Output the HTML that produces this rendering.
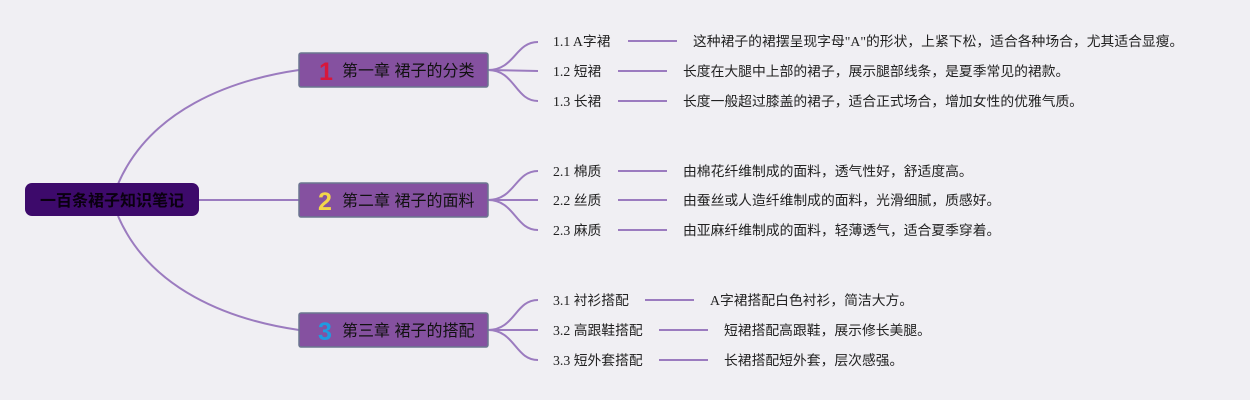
<!DOCTYPE html>
<html><head><meta charset="utf-8"><style>
html,body{margin:0;padding:0;background:#f0eff3;}
svg{display:block}
text{font-family:"Liberation Serif","Noto Sans CJK SC",serif;font-size:13.8px;fill:#222;}
.ch{font-family:"Liberation Sans","Noto Sans CJK SC",sans-serif;font-size:16px;fill:#111;}
</style></head><body>
<svg width="1250" height="400" viewBox="0 0 1250 400">
<g fill="none" stroke="#9b7bbf" stroke-width="2">
<path d="M118 184 C150 110 230 80 299 70"/>
<path d="M199 200 L299 200"/>
<path d="M118 216 C150 290 230 320 299 330"/>
<path d="M488 70 C515 70 515 42 538 42"/><path d="M488 70 L538 71"/><path d="M488 70 C515 70 515 101 538 101"/>
<path d="M488 200 C515 200 515 171 538 171"/><path d="M488 200 L538 200"/><path d="M488 200 C515 200 515 230 538 230"/>
<path d="M488 330 C515 330 515 300 538 300"/><path d="M488 330 L538 330"/><path d="M488 330 C515 330 515 360 538 360"/>
<path d="M628 41 H677"/><path d="M618 71 H667"/><path d="M618 101 H667"/>
<path d="M618 171 H667"/><path d="M618 200 H667"/><path d="M618 230 H667"/>
<path d="M645 300 H694"/><path d="M659 330 H708"/><path d="M659 360 H708"/>
</g>
<rect x="25" y="183" width="174" height="33" rx="7" fill="#3d0a6b"/>
<text x="112" y="206" text-anchor="middle" style="font-family:'Liberation Sans','Noto Sans CJK SC',sans-serif;font-size:16px;font-weight:bold;fill:#0a0010">一百条裙子知识笔记</text>
<g stroke="#6b7790" stroke-width="1.5" fill="#8551a0">
<rect x="299" y="53" width="189" height="34" rx="2"/>
<rect x="299" y="183" width="189" height="34" rx="2"/>
<rect x="299" y="313" width="189" height="34" rx="2"/>
</g>
<text x="319" y="80" style="font-family:'Liberation Sans',sans-serif;font-size:25px;font-weight:bold;fill:#d8173c">1</text>
<text x="318" y="210" style="font-family:'Liberation Sans',sans-serif;font-size:25px;font-weight:bold;fill:#f2d64a">2</text>
<text x="318" y="340" style="font-family:'Liberation Sans',sans-serif;font-size:25px;font-weight:bold;fill:#1f9be0">3</text>
<text class="ch" x="342" y="76">第一章 裙子的分类</text>
<text class="ch" x="342" y="206">第二章 裙子的面料</text>
<text class="ch" x="342" y="336">第三章 裙子的搭配</text>
<text x="553" y="46">1.1 A字裙</text><text x="693" y="46">这种裙子的裙摆呈现字母"A"的形状，上紧下松，适合各种场合，尤其适合显瘦。</text>
<text x="553" y="76">1.2 短裙</text><text x="683" y="76">长度在大腿中上部的裙子，展示腿部线条，是夏季常见的裙款。</text>
<text x="553" y="106">1.3 长裙</text><text x="683" y="106">长度一般超过膝盖的裙子，适合正式场合，增加女性的优雅气质。</text>
<text x="553" y="176">2.1 棉质</text><text x="683" y="176">由棉花纤维制成的面料，透气性好，舒适度高。</text>
<text x="553" y="205">2.2 丝质</text><text x="683" y="205">由蚕丝或人造纤维制成的面料，光滑细腻，质感好。</text>
<text x="553" y="235">2.3 麻质</text><text x="683" y="235">由亚麻纤维制成的面料，轻薄透气，适合夏季穿着。</text>
<text x="553" y="305">3.1 衬衫搭配</text><text x="710" y="305">A字裙搭配白色衬衫，简洁大方。</text>
<text x="553" y="335">3.2 高跟鞋搭配</text><text x="724" y="335">短裙搭配高跟鞋，展示修长美腿。</text>
<text x="553" y="365">3.3 短外套搭配</text><text x="724" y="365">长裙搭配短外套，层次感强。</text>
</svg>
</body></html>
